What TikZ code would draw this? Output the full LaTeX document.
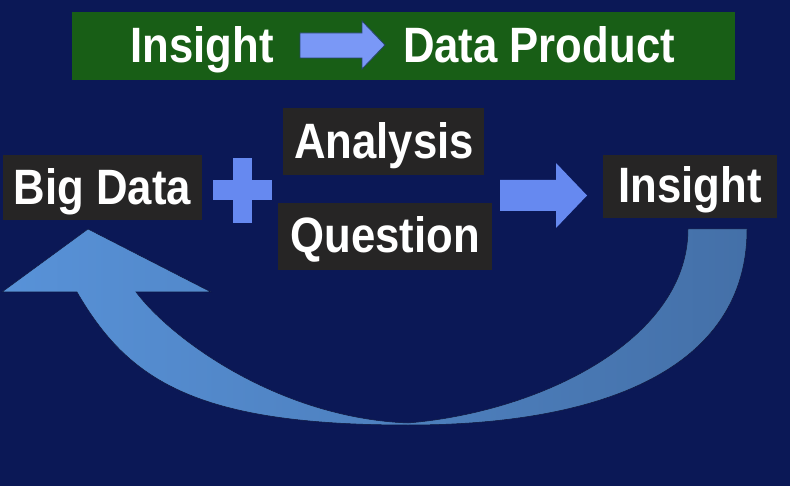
\documentclass[tikz,border=0pt]{standalone}
\usepackage{graphicx}
\usepackage{fontspec}
\setmainfont{Liberation Sans}
\definecolor{bgnavy}{RGB}{11,24,86}
\definecolor{bannergreen}{RGB}{24,94,22}
\definecolor{boxgray}{RGB}{38,37,37}
\definecolor{arrowblue}{RGB}{102,137,240}
\definecolor{bannerarrow}{RGB}{122,152,246}
\definecolor{curveleft}{RGB}{88,146,216}
\definecolor{curveright}{RGB}{68,112,168}
\definecolor{curveedge}{RGB}{14,22,60}
\newcommand\talltxt[1]{\scalebox{0.95}[1.08]{#1}}
\begin{document}
\begin{tikzpicture}[x=1pt,y=-1pt,
  box/.style={fill=boxgray, inner sep=0pt},
  lbl/.style={text=white, font=\fontsize{46}{46}\selectfont\bfseries, anchor=base, inner sep=0pt},
  blockarrow/.style={fill=arrowblue}]
\fill[bgnavy] (0,0) rectangle (790,486);
\useasboundingbox (0,0) rectangle (790,486);

% banner
\node[fill=bannergreen, minimum width=663pt, minimum height=68pt, inner sep=0pt] (banner) at (403.5,46) {};
\node[lbl] (binsight) at (202,63) {\talltxt{Insight}};
\node[lbl] (bproduct) at (539,63) {\talltxt{Data Product}};
\fill[bannerarrow, draw={rgb,255:red,40;green,70;blue,110}, line width=0.8pt]
  (300,33) -- (362,33) -- (362,21) -- (385,45) -- (362,69) -- (362,58) -- (300,58) -- cycle;

% boxes
\node[box, minimum width=199pt, minimum height=65pt] (bigbox) at (102.5,187.5) {};
\node[lbl] (bigdata) at (102.5,205) {\talltxt{Big Data}};
\node[box, minimum width=201pt, minimum height=67pt] (anbox) at (383.5,141.5) {};
\node[lbl] (analysis) at (384,159) {\talltxt{Analysis}};
\node[box, minimum width=214pt, minimum height=67pt] (qbox) at (385,236.5) {};
\node[lbl] (question) at (385,253) {\talltxt{Question}};
\node[box, minimum width=174pt, minimum height=63pt] (inbox) at (690,186.5) {};
\node[lbl] (insight) at (690,203) {\talltxt{Insight}};

% plus
\fill[blockarrow] (233,158) rectangle (252,223);
\fill[blockarrow] (213,180) rectangle (272,200);

% right arrow
\fill[blockarrow] (500,180) -- (556,180) -- (556,163) -- (587,195.5) -- (556,228) -- (556,211) -- (500,211) -- cycle;

% curved feedback arrow
\shade[left color=curveleft, right color=curveright, draw=curveedge, line width=0.5pt]
  (88,229) -- (211,292) -- (136,292)
  .. controls (172,340) and (280,418) .. (408,423)
  .. controls (540,412) and (688,340) .. (688,229)
  -- (747,229)
  .. controls (747,370) and (600,425) .. (408,425)
  .. controls (195,425) and (128,380) .. (77,292)
  -- (2,292) -- cycle;
\end{tikzpicture}
\end{document}
